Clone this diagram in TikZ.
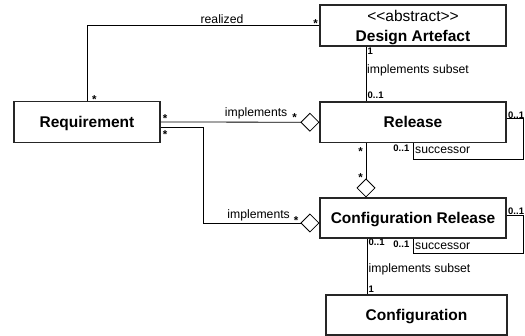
\documentclass[tikz,border=0pt]{standalone}
\usepackage{fontspec}
\setmainfont{Liberation Sans}
\usetikzlibrary{arrows.meta,calc}

\tikzset{
  umlclass/.style={draw=black!85, line width=1.1pt, minimum width=186pt, minimum height=40.5pt,
    inner sep=0pt, text height=11.1pt, text depth=0pt, font=\fontsize{15.5}{20.5}\selectfont\bfseries},
  role/.style={inner sep=0pt, font=\fontsize{12.2}{14}\selectfont},
  mult/.style={inner sep=0pt, font=\fontsize{9.5}{11}\selectfont\bfseries},
  star/.style={inner sep=0pt, anchor=base, font=\fontsize{11.5}{13}\selectfont\bfseries},
  assoc/.style={draw=black, line width=0.8pt},
  aggr/.style={assoc, -{Diamond[open, length=19pt, width=19pt, line width=0.8pt]}},
}

\begin{document}
\begin{tikzpicture}[x=1pt,y=1pt,yscale=-1]
\useasboundingbox (0,0) rectangle (525,336);

% Classes
\node [umlclass, minimum height=41pt, text height=33pt, align=center] (artefact) at (413,25.5)
  {\mdseries <\kern0pt<abstract>\kern0pt>\\ Design Artefact};
\node [umlclass, minimum width=146pt] (req) at (87,122) {Requirement};
\node [umlclass] (release) at (413,122.25) {Release};
\node [umlclass, minimum height=40pt] (confrel) at (413,218) {Configuration Release};
\node [umlclass, minimum width=181pt, minimum height=40pt] (conf) at (416.5,315) {Configuration};

% realized
\draw [assoc] (artefact.west) -| (req.north);
% implements subset (artefact - release)
\coordinate (artsub) at ($(artefact.south)+(-47,0)$);
\draw [assoc] (artsub) -- (artsub |- release.north);
% implements (requirement - release)
\draw [aggr] (req.east) -- (release.west);
% implements (requirement - configuration release)
\coordinate (reqout) at ($(req.east)+(0,5)$);
\coordinate (crin) at ($(confrel.west)+(0,5)$);
\coordinate (implbend) at (203,0);
\draw [aggr] (reqout) -| (implbend |- crin) -- (crin);
% release - configuration release
\coordinate (relout) at ($(release.south)+(-47,0)$);
\draw [aggr] (relout) -- (relout |- confrel.north);
% successor loops
\draw [assoc] ($(release.east)+(0,-4)$) -- ++(17,0) |- ($(release.south)+(0,16)$) -- (release.south);
\draw [assoc] ($(confrel.east)+(0,-2.5)$) -- ++(17,0) |- ($(confrel.south)+(0,15)$) -- (confrel.south);
% implements subset (configuration release - configuration)
\coordinate (cfgsub) at ($(confrel.south)+(-46,0)$);
\draw [assoc] (cfgsub) -- (cfgsub |- conf.north);

% Text Node
\node [role, anchor=base] (realizedlbl) at (222,23.5) {realized};
\node [star] (realizedA) at (315.5,27.4) {*};
\node [star] (realizedB) at (94.3,103.4) {*};
% Text Node
\node [mult, anchor=base west] (subA) at (367.5,54.5) {1};
\node [role, anchor=base west] (subAlbl) at (367,73.5) {implements subset};
\node [mult, anchor=base west] (subB) at (367.5,99) {0..1};
% Text Node
\node [star] (implA) at (165,122.7) {*};
\node [role, anchor=base east] (implAlbl) at (287.5,117) {implements};
\node [star] (implAend) at (294.7,121.7) {*};
\node [star] (implB) at (165,138.4) {*};
\node [role, anchor=base east] (implBlbl) at (290,219) {implements};
\node [star] (implBend) at (296,224.7) {*};
% Text Node
\node [star] (partA) at (360.7,156) {*};
\node [star] (partB) at (360.7,181.7) {*};
% Text Node
\node [mult, anchor=base west] (succA) at (508,118.5) {0..1};
\node [mult, anchor=base east] (succAend) at (409.5,152) {0..1};
\node [role, anchor=base west] (succAlbl) at (415,154) {successor};
\node [mult, anchor=base west] (succB) at (508,214.5) {0..1};
\node [mult, anchor=base east] (succBend) at (409.5,248) {0..1};
\node [role, anchor=base west] (succBlbl) at (415,250) {successor};
% Text Node
\node [mult, anchor=base west] (subC) at (368.5,245.5) {0..1};
\node [role, anchor=base west] (subClbl) at (368.5,273) {implements subset};
\node [mult, anchor=base west] (subD) at (368.5,293) {1};

\end{tikzpicture}
\end{document}
